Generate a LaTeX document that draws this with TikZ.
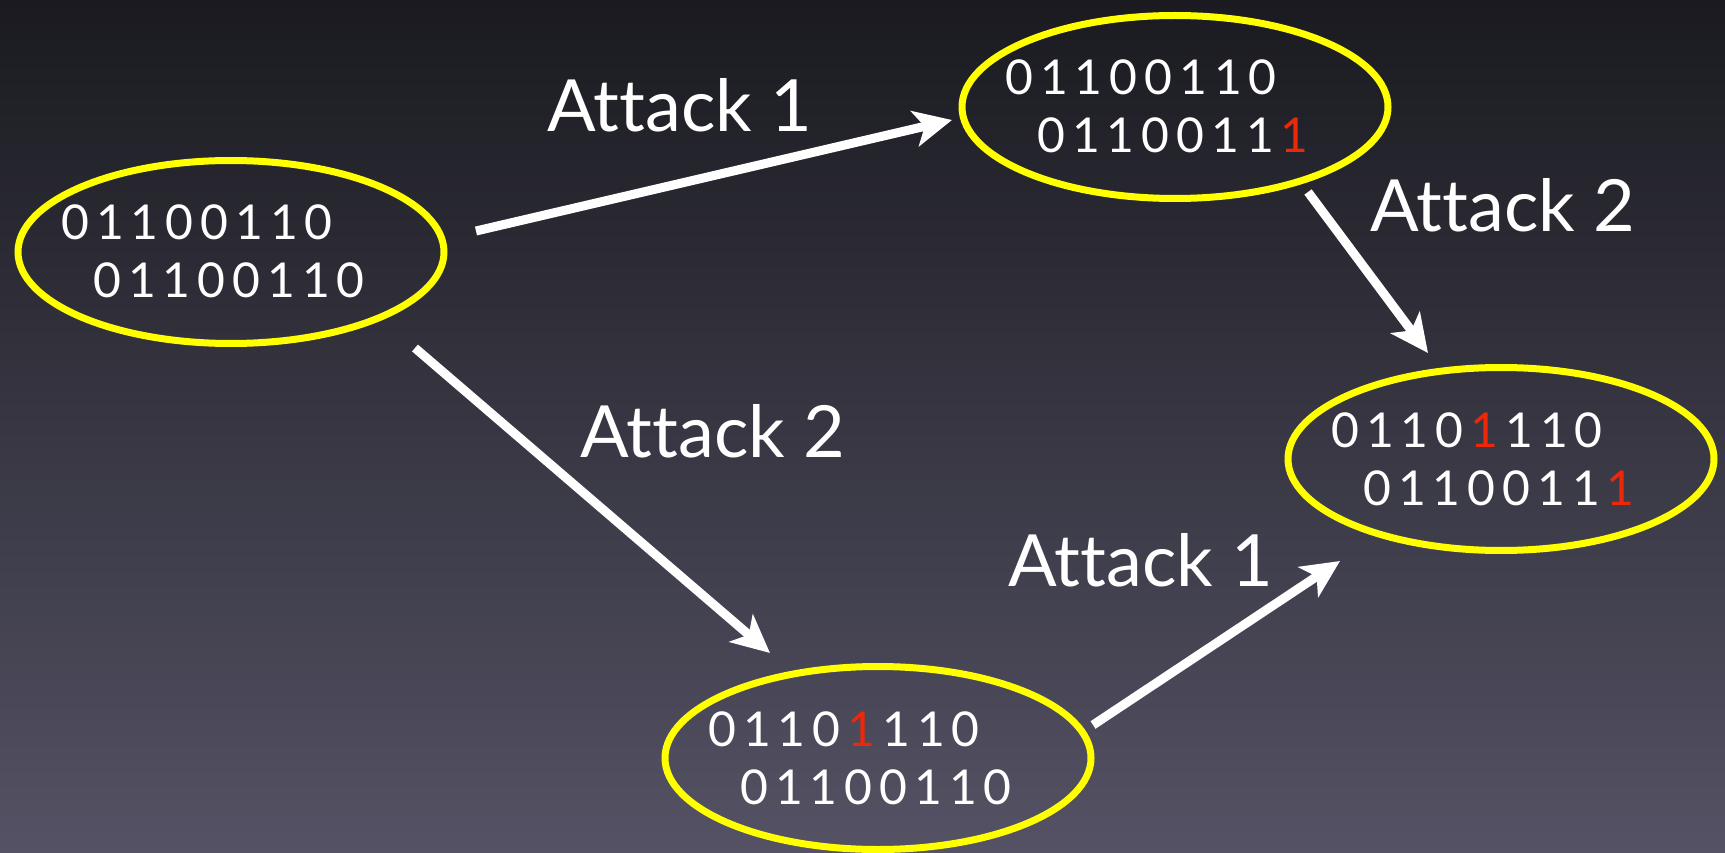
\documentclass[tikz,border=0pt]{standalone}
\usepackage{fontspec}
\setmainfont{Lato}[Ligatures=NoCommon]
\usetikzlibrary{arrows.meta,shapes.geometric}
\definecolor{bgtop}{RGB}{26,26,32}
\definecolor{bgbot}{RGB}{84,82,100}
\definecolor{ylw}{RGB}{255,255,0}
\definecolor{flip}{RGB}{235,40,10}
\newcommand\bitbox[1]{\makebox[34.8pt][c]{#1}}
\newcommand\redone{\textcolor{flip}{1}}
\begin{document}
\begin{tikzpicture}[x=1pt,y=-1pt,
  state/.style={ellipse, draw=ylw, line width=7pt, minimum width=426pt, minimum height=183pt, inner sep=0pt},
  bits/.style={text=white, font=\fontsize{48}{52}\selectfont, anchor=base west, inner sep=0pt},
  lbl/.style={text=white, font=\fontsize{72}{80}\selectfont, anchor=base west, inner sep=0pt},
  arr/.style={draw=white, line width=9pt, -{Stealth[length=38pt,width=36pt,inset=10pt]}}]
\shade[top color=bgtop, bottom color=bgbot] (0,0) rectangle (1725,853);
\useasboundingbox (0,0) rectangle (1725,853);

\node[state] (s0) at (231,252) {};
\node[state] (s1) at (1175,107) {};
\node[state] (s2) at (1501,459) {};
\node[state] (s3) at (878,758) {};

\node[bits, xshift=-173.4pt, yshift=12pt] (s0a) at (s0) {\bitbox0\bitbox1\bitbox1\bitbox0\bitbox0\bitbox1\bitbox1\bitbox0};
\node[bits, xshift=-141.4pt, yshift=-46pt] (s0b) at (s0) {\bitbox0\bitbox1\bitbox1\bitbox0\bitbox0\bitbox1\bitbox1\bitbox0};

\node[bits, xshift=-173.4pt, yshift=12pt] (s1a) at (s1) {\bitbox0\bitbox1\bitbox1\bitbox0\bitbox0\bitbox1\bitbox1\bitbox0};
\node[bits, xshift=-141.4pt, yshift=-46pt] (s1b) at (s1) {\bitbox0\bitbox1\bitbox1\bitbox0\bitbox0\bitbox1\bitbox1\bitbox{\redone}};

\node[bits, xshift=-173.4pt, yshift=12pt] (s2a) at (s2) {\bitbox0\bitbox1\bitbox1\bitbox0\bitbox{\redone}\bitbox1\bitbox1\bitbox0};
\node[bits, xshift=-141.4pt, yshift=-46pt] (s2b) at (s2) {\bitbox0\bitbox1\bitbox1\bitbox0\bitbox0\bitbox1\bitbox1\bitbox{\redone}};

\node[bits, xshift=-173.4pt, yshift=12pt] (s3a) at (s3) {\bitbox0\bitbox1\bitbox1\bitbox0\bitbox{\redone}\bitbox1\bitbox1\bitbox0};
\node[bits, xshift=-141.4pt, yshift=-46pt] (s3b) at (s3) {\bitbox0\bitbox1\bitbox1\bitbox0\bitbox0\bitbox1\bitbox1\bitbox0};

\coordinate (a1s) at (476,231);
\coordinate (a1e) at (952,120);
\coordinate (a2s) at (415,348);
\coordinate (a2e) at (770,653);
\coordinate (a3s) at (1308,192);
\coordinate (a3e) at (1428,353);
\coordinate (a4s) at (1093,725);
\coordinate (a4e) at (1340,561);

\draw[arr] (a1s) -- (a1e);
\draw[arr] (a2s) -- (a2e);
\draw[arr] (a3s) -- (a3e);
\draw[arr] (a4s) -- (a4e);

\node[lbl] (l1) at (547,132) {At\kern0pt tack 1};
\node[lbl] (l2) at (1370,232) {At\kern0pt tack 2};
\node[lbl] (l3) at (580,457) {At\kern0pt tack 2};
\node[lbl] (l4) at (1008,586) {At\kern0pt tack 1};
\end{tikzpicture}
\end{document}
